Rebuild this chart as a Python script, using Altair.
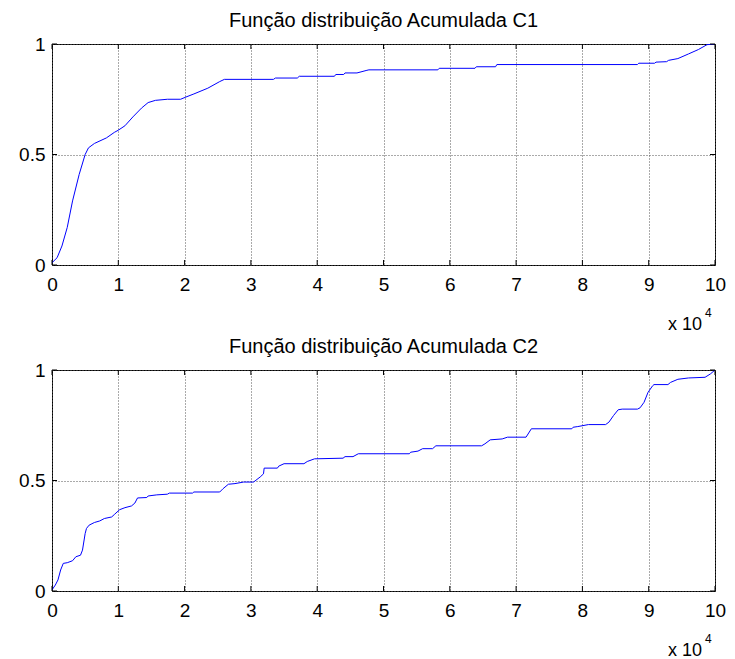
import altair as alt
import pandas as pd

# Axis ticks (x values are in units of 10^4)
X_TICKS = list(range(0, 11))
Y_TICKS = [0, 0.5, 1]

TITLE_C1 = "Função distribuição Acumulada C1"
TITLE_C2 = "Função distribuição Acumulada C2"

# Empirical cumulative distribution, series C1
x_c1 = [0, 0.077, 0.15, 0.23, 0.31, 0.41, 0.5, 0.55, 0.64, 0.82, 0.94, 1.0, 1.1, 1.22,
        1.35, 1.45, 1.56, 1.74, 1.94, 2.02, 2.14, 2.35, 2.53, 2.6, 3.34, 3.37, 3.70,
        3.73, 4.26, 4.28, 4.4, 4.42, 4.6, 4.75, 4.78, 5.82, 5.84, 6.38, 6.40, 6.69,
        6.71, 8.83, 8.85, 9.09, 9.11, 9.27, 9.30, 9.44, 9.6, 9.75, 9.88, 10.0]
y_c1 = [0.01, 0.033, 0.086, 0.17, 0.29, 0.41, 0.5, 0.53, 0.55, 0.575, 0.6, 0.61, 0.63, 0.67,
        0.71, 0.735, 0.745, 0.75, 0.75, 0.76, 0.774, 0.80, 0.83, 0.84, 0.84, 0.846, 0.846,
        0.854, 0.854, 0.862, 0.862, 0.869, 0.869, 0.881, 0.883, 0.883, 0.89, 0.89, 0.897, 0.897,
        0.907, 0.907, 0.913, 0.913, 0.918, 0.92, 0.926, 0.934, 0.955, 0.975, 0.997, 1.0]

# Empirical cumulative distribution, series C2
x_c2 = [0, 0.05, 0.09, 0.13, 0.17, 0.23, 0.31, 0.36, 0.43, 0.46, 0.5, 0.52, 0.56, 0.64,
        0.72, 0.79, 0.9, 0.94, 1.02, 1.1, 1.2, 1.25, 1.29, 1.43, 1.45, 1.58, 1.74, 1.77,
        2.12, 2.14, 2.53, 2.58, 2.66, 2.76, 2.89, 3.04, 3.14, 3.19, 3.2, 3.4, 3.42, 3.5,
        3.80, 3.85, 3.96, 4.39, 4.42, 4.54, 4.62, 5.39, 5.41, 5.52, 5.59, 5.74, 5.79, 6.48,
        6.53, 6.61, 6.79, 6.87, 7.15, 7.23, 7.84, 7.86, 7.93, 8.09, 8.35, 8.4, 8.47, 8.54,
        8.6, 8.83, 8.87, 8.93, 8.99, 9.06, 9.08, 9.29, 9.33, 9.44, 9.6, 9.85, 9.93, 10.0]
y_c2 = [0.005, 0.027, 0.05, 0.095, 0.125, 0.128, 0.137, 0.155, 0.162, 0.185, 0.26, 0.283, 0.298, 0.31,
        0.317, 0.328, 0.335, 0.346, 0.368, 0.377, 0.385, 0.398, 0.421, 0.423, 0.43, 0.435, 0.438, 0.443,
        0.443, 0.448, 0.448, 0.463, 0.483, 0.486, 0.493, 0.493, 0.516, 0.53, 0.556, 0.556, 0.565, 0.576,
        0.576, 0.586, 0.598, 0.601, 0.608, 0.608, 0.621, 0.621, 0.628, 0.633, 0.644, 0.644, 0.657, 0.657,
        0.666, 0.684, 0.688, 0.696, 0.696, 0.734, 0.734, 0.741, 0.744, 0.753, 0.753, 0.764, 0.794, 0.82,
        0.823, 0.823, 0.829, 0.854, 0.899, 0.929, 0.934, 0.934, 0.944, 0.958, 0.964, 0.967, 0.982, 1.0]

W, H = 663, 221
FONT = "Liberation Sans"
TICK_LEN = 5

GRID_AXIS = dict(grid=True, gridColor="#555555", gridDash=[1, 2], gridWidth=1,
                 domain=False, ticks=False, title=None, labelFont=FONT,
                 labelFontSize=19, labelColor="black", labelFlush=False,
                 labelOverlap=False)
X_SCALE = alt.Scale(domain=[0, 10], nice=False, zero=False)
Y_SCALE = alt.Scale(domain=[0, 1], nice=False, zero=False)
X_ENC = alt.X("x:Q", scale=X_SCALE,
              axis=alt.Axis(values=X_TICKS, format="d", labelPadding=10, **GRID_AXIS))
Y_ENC = alt.Y("y:Q", scale=Y_SCALE,
              axis=alt.Axis(values=Y_TICKS, format="~g", labelPadding=7, **GRID_AXIS))


def panel(xs, ys, title):
    curve = alt.Chart(pd.DataFrame({"x": xs, "y": ys})).mark_line(
        color="#0000ff", strokeWidth=1, clip=True
    ).encode(x=X_ENC, y=Y_ENC)

    # inward tick marks on all four sides of the box
    xt = alt.Chart(pd.DataFrame({"x": X_TICKS}))
    yt = alt.Chart(pd.DataFrame({"y": Y_TICKS}))
    rule = dict(color="black", strokeWidth=1)
    top_ticks = xt.mark_rule(**rule).encode(x=X_ENC, y=alt.value(0), y2=alt.value(TICK_LEN))
    bottom_ticks = xt.mark_rule(**rule).encode(x=X_ENC, y=alt.value(H - TICK_LEN), y2=alt.value(H))
    left_ticks = yt.mark_rule(**rule).encode(y=Y_ENC, x=alt.value(0), x2=alt.value(TICK_LEN))
    right_ticks = yt.mark_rule(**rule).encode(y=Y_ENC, x=alt.value(W - TICK_LEN), x2=alt.value(W))

    # axis multiplier "x 10^4"
    mult = alt.Chart(pd.DataFrame({"t": ["x 10"]})).mark_text(
        align="right", baseline="alphabetic", font=FONT, fontSize=18, color="black"
    ).encode(x=alt.value(W - 13), y=alt.value(H + 65), text="t:N")
    expo = alt.Chart(pd.DataFrame({"t": ["4"]})).mark_text(
        align="left", baseline="alphabetic", font=FONT, fontSize=12, color="black"
    ).encode(x=alt.value(W - 10), y=alt.value(H + 52), text="t:N")

    return alt.layer(curve, top_ticks, bottom_ticks, left_ticks, right_ticks, mult, expo).properties(
        width=W, height=H,
        title=alt.TitleParams(title, font=FONT, fontSize=20, fontWeight="normal",
                              color="black", anchor="middle", frame="group",
                              baseline="alphabetic", offset=-12),
    )


chart = alt.vconcat(
    panel(x_c1, y_c1, TITLE_C1),
    panel(x_c2, y_c2, TITLE_C2),
    spacing=105,
    bounds="flush",
).properties(
    padding={"left": 18, "top": 10, "right": 5, "bottom": 1},
    background="white",
).configure_view(
    stroke="black", strokeWidth=1
)

chart.save("out.html", embed_options={"renderer": "svg", "actions": False})
